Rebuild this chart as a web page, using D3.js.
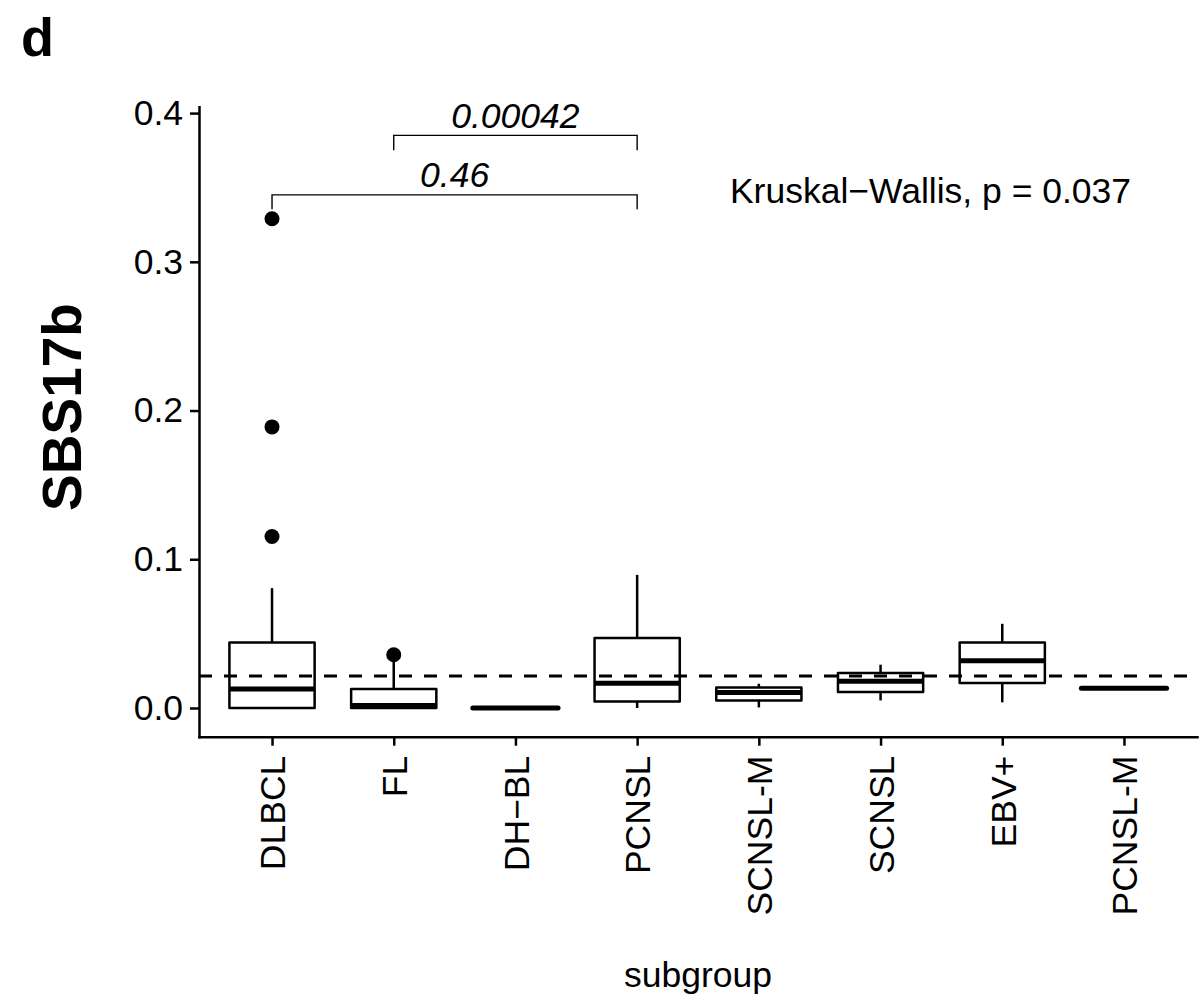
<!DOCTYPE html>
<html>
<head>
<meta charset="utf-8">
<script src="https://cdn.jsdelivr.net/npm/d3@7"></script>
<style>
  html, body { margin: 0; padding: 0; background: #fff; }
  svg { display: block; font-family: "Liberation Sans", Arial, Helvetica, sans-serif; }
</style>
</head>
<body>
<svg id="chart" width="1200" height="1006"></svg>
<script>
// Box-plot summary of SBS17b signature exposure per lymphoma subgroup
const subgroups   = ["DLBCL", "FL", "DH\u2212BL", "PCNSL", "SCNSL-M", "SCNSL", "EBV+", "PCNSL-M"];
const whiskerLow  = [0.0,    0.0,    0.0, 0.0,    0.0004, 0.0051, 0.0038, 0.0132];
const q1          = [0.0,    0.0,    0.0, 0.0044, 0.0051, 0.0107, 0.0168, 0.0132];
const medians     = [0.0128, 0.0017, 0.0, 0.0167, 0.0105, 0.018,  0.0318, 0.0132];
const q3          = [0.0441, 0.0128, 0.0, 0.047,  0.0138, 0.0235, 0.0441, 0.0132];
const whiskerHigh = [0.0806, 0.031,  0.0, 0.0895, 0.0163, 0.0291, 0.0566, 0.0132];

// Points beyond the whiskers
const outlierGroup = ["DLBCL", "DLBCL", "DLBCL", "FL"];
const outlierValue = [0.329, 0.189, 0.1153, 0.0358];

// Overall mean reference line
const refLine = 0.0215;

// Pairwise comparisons (Wilcoxon p-values)
const compFrom   = ["DLBCL", "FL"];
const compTo     = ["PCNSL", "PCNSL"];
const compLabel  = ["0.46", "0.00042"];
const compY      = [0.345, 0.385];
const compTip    = [0.0096, 0.0100];

const globalTest = "Kruskal\u2212Wallis, p = 0.037";
const yTicks = [0.0, 0.1, 0.2, 0.3, 0.4];

const svg = d3.select("#chart");
const panel = { left: 199, right: 1197, top: 106.7, bottom: 736.7 };

const x = d3.scalePoint()
  .domain(subgroups)
  .range([panel.left, panel.right])
  .padding(0.6);

const y = d3.scaleLinear()
  .domain([-0.0193, 0.4043])
  .range([panel.bottom, panel.top]);

const boxW = x.step() * 0.7;
const FS = 35.5;
const LW = 2.5;

// Axes
const yAxis = svg.append("g")
  .attr("transform", `translate(${panel.left},0)`)
  .call(d3.axisLeft(y).tickValues(yTicks).tickFormat(d3.format(".1f"))
    .tickSize(9).tickSizeOuter(0).tickPadding(7));
const xAxis = svg.append("g")
  .attr("transform", `translate(0,${panel.bottom})`)
  .call(d3.axisBottom(x).tickSize(9).tickSizeOuter(0).tickPadding(11));

[yAxis, xAxis].forEach(g => {
  g.select(".domain").attr("stroke", "#000").attr("stroke-width", LW).attr("stroke-linecap", "square");
  g.selectAll(".tick line").attr("stroke", "#000").attr("stroke-width", LW);
  g.selectAll(".tick text").attr("fill", "#000").style("font-size", FS + "px")
    .style("font-family", "'Liberation Sans', Arial, sans-serif");
});

xAxis.selectAll(".tick text")
  .attr("text-anchor", "end")
  .attr("y", 0).attr("dy", "0.36em")
  .attr("transform", "translate(0,19) rotate(-90)");

// Reference line
svg.append("line")
  .attr("x1", panel.left).attr("x2", panel.right)
  .attr("y1", y(refLine)).attr("y2", y(refLine))
  .attr("stroke", "#000").attr("stroke-width", 2.8)
  .attr("stroke-dasharray", "13,12");

// Boxes
const boxes = svg.append("g").selectAll("g")
  .data(subgroups.map((s, i) => ({ s, lo: whiskerLow[i], q1: q1[i], med: medians[i], q3: q3[i], hi: whiskerHigh[i] })))
  .join("g");

boxes.append("line")
  .attr("x1", d => x(d.s)).attr("x2", d => x(d.s))
  .attr("y1", d => y(d.q3)).attr("y2", d => y(d.hi))
  .attr("stroke", "#000").attr("stroke-width", LW);
boxes.append("line")
  .attr("x1", d => x(d.s)).attr("x2", d => x(d.s))
  .attr("y1", d => y(d.q1)).attr("y2", d => y(d.lo))
  .attr("stroke", "#000").attr("stroke-width", LW);
boxes.append("rect")
  .attr("x", d => x(d.s) - boxW / 2).attr("width", boxW)
  .attr("y", d => y(d.q3)).attr("height", d => y(d.q1) - y(d.q3))
  .attr("fill", "none").attr("stroke", "#000").attr("stroke-width", LW)
  .attr("stroke-linejoin", "round");
boxes.append("line")
  .attr("x1", d => x(d.s) - boxW / 2).attr("x2", d => x(d.s) + boxW / 2)
  .attr("y1", d => y(d.med)).attr("y2", d => y(d.med))
  .attr("stroke", "#000").attr("stroke-width", 5)
  .attr("stroke-linecap", d => d.q1 === d.q3 ? "round" : "butt");

// Outliers
svg.append("g").selectAll("circle")
  .data(outlierValue.map((v, i) => ({ s: outlierGroup[i], v })))
  .join("circle")
  .attr("cx", d => x(d.s)).attr("cy", d => y(d.v))
  .attr("r", 7.5).attr("fill", "#000");

// Comparison brackets
compLabel.forEach((lab, i) => {
  const x1 = x(compFrom[i]), x2 = x(compTo[i]);
  const yb = y(compY[i]), yt = y(compY[i] - compTip[i]);
  svg.append("path")
    .attr("d", `M${x1},${yt}V${yb}H${x2}V${yt}`)
    .attr("fill", "none").attr("stroke", "#000").attr("stroke-width", 1.4);
  svg.append("text")
    .attr("x", (x1 + x2) / 2).attr("y", yb - 7.5)
    .attr("text-anchor", "middle")
    .style("font-size", FS + "px").style("font-style", "italic")
    .text(lab);
});

// Global test annotation
svg.append("text")
  .attr("x", 930.5).attr("y", 203)
  .attr("text-anchor", "middle")
  .style("font-size", FS + "px")
  .text(globalTest);

// Axis titles
svg.append("text")
  .attr("x", (panel.left + panel.right) / 2).attr("y", 987)
  .attr("text-anchor", "middle")
  .style("font-size", FS + "px")
  .text("subgroup");

svg.append("text")
  .attr("transform", "translate(81,407) rotate(-90)")
  .attr("text-anchor", "middle")
  .style("font-size", "55px").style("font-weight", "bold")
  .text("SBS17b");

// Panel tag
svg.append("text")
  .attr("x", 21).attr("y", 56)
  .style("font-size", "54px").style("font-weight", "bold")
  .text("d");
</script>
</body>
</html>
